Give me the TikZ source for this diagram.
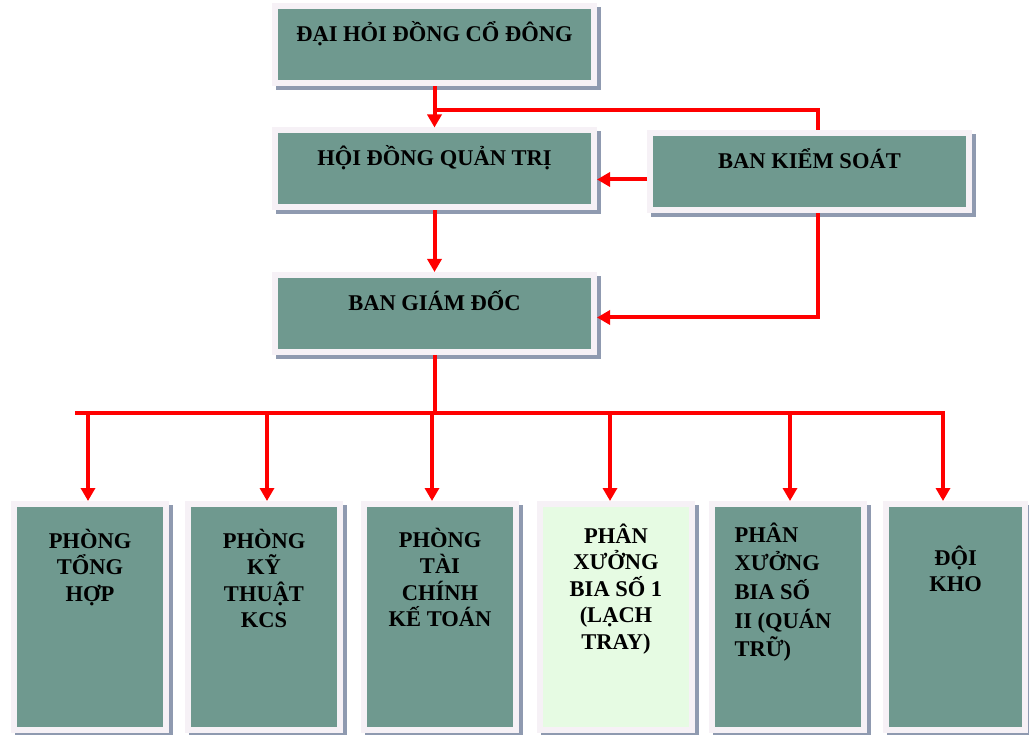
\documentclass[tikz,border=0pt]{standalone}
\usepackage{fontspec}
\setmainfont{Liberation Serif}
\usetikzlibrary{arrows.meta}

\definecolor{boxteal}{RGB}{111,153,143}
\definecolor{boxframe}{RGB}{246,241,246}
\definecolor{boxshadow}{RGB}{143,154,176}
\definecolor{boxmint}{RGB}{230,251,227}
\definecolor{linkred}{RGB}{255,0,0}

\newcommand{\deptlabel}[2]{\parbox[c][220pt][t]{130pt}{\centering\rule{0pt}{#1}#2}}

\begin{document}
\begin{tikzpicture}
		[x=1pt, y=-1pt,
		unit/.style={rectangle, fill=boxteal, draw=boxframe, line width=6pt, inner sep=0pt,
			preaction={fill=boxshadow, draw=boxshadow, transform canvas={shift={(4pt,-4pt)}}},
			font=\fontsize{22.5}{26.5}\selectfont\bfseries},
		board/.style={unit, minimum width=319pt, minimum height=77pt, text height=16pt, text depth=22pt},
		dept/.style={unit, minimum width=152pt, minimum height=226pt},
		link/.style={draw=linkred, line width=4pt},
		feed/.style={link, -{Triangle[length=13pt, width=14pt]}}]
		\path[use as bounding box, fill=white] (0,0) rectangle (1029,735);

		\node[board] (dhdcd) at (434.5,45) {ĐẠI HỎI ĐỒNG CỔ ĐÔNG};
		\node[board] (hdqt) at (434.5,169) {HỘI ĐỒNG QUẢN TRỊ};
		\node[board] (bks) at (809.5,171.5) {BAN KIỂM SOÁT};
		\node[board] (bgd) at (434.5,313.5) {BAN GIÁM ĐỐC};

		\node[dept] (tonghop) at (90,617) {\deptlabel{41pt}{PHÒNG\\TỔNG\\HỢP}};
		\node[dept] (kythuat) at (264,617) {\deptlabel{41pt}{PHÒNG\\KỸ\\THUẬT\\KCS}};
		\node[dept] (taichinh) at (440,617) {\deptlabel{40pt}{PHÒNG\\TÀI\\CHÍNH\\KẾ TOÁN}};
		\node[dept, fill=boxmint] (laychtray) at (616,617) {\deptlabel{36pt}{PHÂN\\XƯỞNG\\BIA SỐ 1\\(LẠCH\\TRAY)}};
		\node[dept] (quantru) at (787.5,617) {\deptlabel{35pt}{\raggedright\leftskip=12pt PHÂN\\[2.2pt]XƯỞNG\\[2.2pt]BIA SỐ\\[2.2pt]II (QUÁN\\[2.2pt]TRỮ)}};
		\node[dept, minimum width=139pt] (doikho) at (955.5,617) {\deptlabel{58pt}{ĐỘI\\KHO}};

		\coordinate (audit) at (437,110);
		\coordinate (busleft) at (75,413);
		\coordinate (busright) at (945,413);

		\draw[feed] (dhdcd) -- (hdqt);
		\draw[link] ([xshift=8pt]bks.north) |- (audit);
		\draw[feed] ([yshift=-8pt]bks.west) -- ([yshift=-8pt]bks.west -| hdqt.east);
		\draw[feed] (hdqt) -- (bgd);
		\draw[feed] ([xshift=8pt]bks.south) |- ([yshift=-4pt]bgd.east);

		\draw[link] (bgd.south) -- (bgd.south |- busleft);
		\draw[link] (busleft) -- (busright);
		\foreach \room/\dx in {tonghop/-2, kythuat/3, taichinh/-8, laychtray/-6, quantru/2.5, doikho/-12.5}
			\draw[feed] ([xshift=\dx pt]\room.north |- busleft) -- ([xshift=\dx pt]\room.north);
	\end{tikzpicture}
\end{document}
